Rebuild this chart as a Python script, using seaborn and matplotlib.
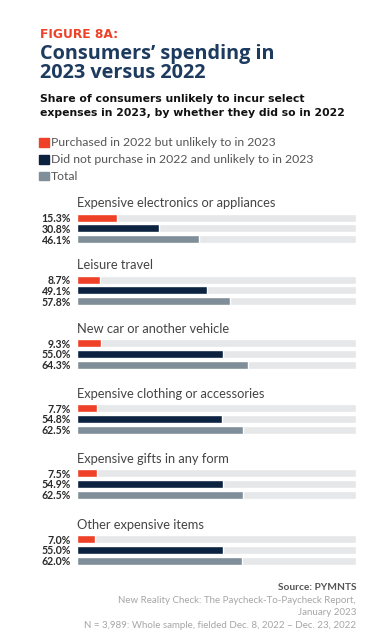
import pandas as pd
import matplotlib.pyplot as plt
import seaborn as sns

# Data
categories = ['Expensive electronics or appliances', 'Leisure travel',
              'New car or another vehicle', 'Expensive clothing or accessories',
              'Expensive gifts in any form', 'Other expensive items']
series = ['Purchased in 2022 but unlikely to in 2023',
          'Did not purchase in 2022 and unlikely to in 2023',
          'Total']
purchased_2022 = [15.3, 8.7, 9.3, 7.7, 7.5, 7.0]
not_purchased_2022 = [30.8, 49.1, 55.0, 54.8, 54.9, 55.0]
total = [46.1, 57.8, 64.3, 62.5, 62.5, 62.0]

colors = ['#ee4127', '#0b2240', '#7f8e99']
track_color = '#e6e7e9'
track_max = 105

rows = []
for i, cat in enumerate(categories):
    for s, vals in zip(series, [purchased_2022, not_purchased_2022, total]):
        rows.append({'category': cat, 'series': s, 'value': vals[i]})
df = pd.DataFrame(rows)

sns.set_style('white')
plt.rcParams['font.family'] = ['Lato', 'DejaVu Sans']

W, H = 381, 640
fig = plt.figure(figsize=(W / 100, H / 100), dpi=100)

# Header text
fig.text(40.5 / W, 1 - 37.5 / H, 'FIGURE 8A:', color='#ee4127', fontsize=8.8,
         fontweight='bold', family=['DejaVu Sans'], va='baseline')
fig.text(39.5 / W, 1 - 58.5 / H, 'Consumers\u2019 spending in', color='#1d3a5f',
         fontsize=14.3, fontweight='bold', family=['Open Sans', 'DejaVu Sans'],
         va='baseline')
fig.text(39.5 / W, 1 - 77.5 / H, '2023 versus 2022', color='#1d3a5f',
         fontsize=14.3, fontweight='bold', family=['Open Sans', 'DejaVu Sans'],
         va='baseline')
fig.text(40 / W, 1 - 102.5 / H, 'Share of consumers unlikely to incur select',
         color='#111111', fontsize=7.8, fontweight='bold',
         family='DejaVu Sans', va='baseline')
fig.text(40 / W, 1 - 116 / H, 'expenses in 2023, by whether they did so in 2022',
         color='#111111', fontsize=7.8, fontweight='bold',
         family='DejaVu Sans', va='baseline')

# Legend
for k, (s, c) in enumerate(zip(series, colors)):
    yc = 142.5 + 16.8 * k
    fig.patches.append(plt.Rectangle((39.3 / W, 1 - (yc + 4.3) / H), 9.3 / W, 8.6 / H,
                                     transform=fig.transFigure, color=c))
    fig.text(51 / W, 1 - yc / H, s, color='#555555', fontsize=8.8, va='center')

# Bars, one small axes per category
red_centers = [217.7, 279.7, 343.3, 408.3, 473.3, 539.3]
pitch = 10.7
x0, x1 = 76.7, 356
for cat, yc in zip(categories, red_centers):
    top = yc - pitch / 2
    ax = fig.add_axes([x0 / W, 1 - (top + 3 * pitch) / H, (x1 - x0) / W, 3 * pitch / H])
    sub = df[df['category'] == cat]
    sns.barplot(x=[track_max] * 3, y=series, color=track_color, width=0.75,
                ax=ax, order=series)
    sns.barplot(data=sub, x='value', y='series', hue='series', order=series,
                hue_order=series, palette=colors, width=0.75, legend=False,
                ax=ax, saturation=1)
    ax.set_xlim(0, track_max)
    ax.set_ylim(2.5, -0.5)
    ax.set_xlabel('')
    ax.set_ylabel('')
    ax.set_xticks([])
    ax.set_yticks(range(3))
    ax.set_yticklabels([f'{v:.1f}%' for v in sub['value']], fontsize=7.6,
                       fontweight='bold', color='#2a2a2a')
    ax.tick_params(axis='y', length=0, pad=4)
    sns.despine(ax=ax, left=True, bottom=True)
    ax.annotate(cat, xy=(0, 1), xycoords='axes fraction', xytext=(0, 5.2),
                textcoords='offset pixels', va='baseline', ha='left',
                fontsize=9.3, color='#444444')

# Footer
fig.text(356 / W, 1 - 587.7 / H, 'Source: PYMNTS', color='#555555', fontsize=7.3,
         fontweight='bold', ha='right', va='center')
footer = ['New Reality Check: The Paycheck-To-Paycheck Report,', 'January 2023',
          'N = 3,989: Whole sample, fielded Dec. 8, 2022 \u2013 Dec. 23, 2022']
for line, y in zip(footer, [600.3, 612.3, 625]):
    fig.text(356 / W, 1 - y / H, line, color='#a6a6a6', fontsize=7.0,
             ha='right', va='center')

fig.savefig('out.png', dpi=100)
